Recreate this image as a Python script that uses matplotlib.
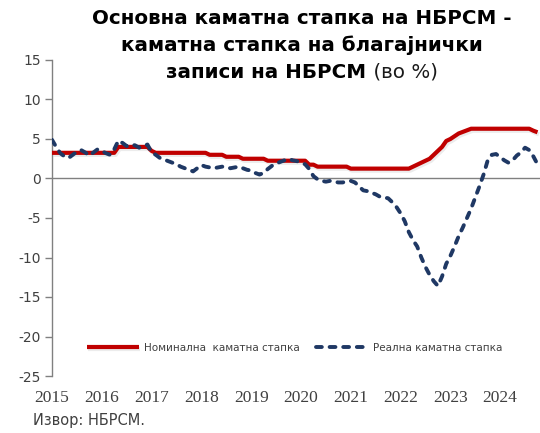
import matplotlib.pyplot as plt
import matplotlib.patheffects as pe
import numpy as np

# monthly data, Jan 2015 - Oct 2024
start_year = 2015
nominal = [3.25, 3.25, 3.25, 3.25, 3.25, 3.25, 3.25, 3.25, 3.25, 3.25, 3.25, 3.25,
           3.25, 3.25, 3.25, 3.25, 4.0, 4.0, 4.0, 4.0, 4.0, 4.0, 4.0, 4.0,
           3.5, 3.25, 3.25, 3.25, 3.25, 3.25, 3.25, 3.25, 3.25, 3.25, 3.25, 3.25,
           3.25, 3.25, 3.0, 3.0, 3.0, 3.0, 2.75, 2.75, 2.75, 2.75, 2.5, 2.5,
           2.5, 2.5, 2.5, 2.5, 2.25, 2.25, 2.25, 2.25, 2.25, 2.25, 2.25, 2.25,
           2.25, 2.25, 1.75, 1.75, 1.5, 1.5, 1.5, 1.5, 1.5, 1.5, 1.5, 1.5,
           1.25, 1.25, 1.25, 1.25, 1.25, 1.25, 1.25, 1.25, 1.25, 1.25, 1.25, 1.25,
           1.25, 1.25, 1.25, 1.5, 1.75, 2.0, 2.25, 2.5, 3.0, 3.5, 4.0, 4.75,
           5.0, 5.35, 5.7, 5.9, 6.1, 6.3, 6.3, 6.3, 6.3, 6.3, 6.3, 6.3,
           6.3, 6.3, 6.3, 6.3, 6.3, 6.3, 6.3, 6.3, 6.05, 5.85]
real = [4.9, 4.0, 3.2, 2.8, 2.6, 3.0, 3.4, 3.6, 3.3, 2.9, 3.3, 3.7,
        3.5, 3.2, 3.0, 3.7, 4.8, 4.5, 4.1, 4.3, 4.2, 3.9, 4.1, 4.3,
        3.3, 3.0, 2.6, 2.4, 2.2, 2.0, 1.8, 1.5, 1.3, 1.1, 0.9, 1.3,
        1.7, 1.5, 1.4, 1.3, 1.4, 1.5, 1.4, 1.3, 1.4, 1.5, 1.3, 1.1,
        1.0, 0.7, 0.5, 0.7, 1.2, 1.6, 1.9, 2.1, 2.3, 2.5, 2.3, 2.2,
        2.0, 1.8, 1.2, 0.3, -0.1, -0.3, -0.4, -0.3, -0.4, -0.5, -0.5, -0.4,
        -0.3, -0.5, -1.0, -1.5, -1.6, -1.8, -2.0, -2.3, -2.4, -2.5, -3.0, -3.6,
        -4.4, -5.4, -6.8, -7.8, -8.6, -10.0, -11.2, -12.2, -13.0, -13.6, -12.4, -10.8,
        -9.8, -8.6, -7.3, -6.2, -5.0, -3.8, -2.4, -1.0, 0.5, 2.3, 3.0, 3.1,
        2.7, 2.3, 2.0, 2.3, 2.9, 3.3, 3.9, 3.6, 2.8, 1.8]
years = list(range(2015, 2025))
yticks = [15, 10, 5, 0, -5, -10, -15, -20, -25]

x = start_year + np.arange(len(real)) / 12

fig = plt.figure(figsize=(5.4, 4.33), dpi=100)
ax = fig.add_axes([52/540, 1 - 376/433, 1 - 52/540, 316/433])

shadow = [pe.SimpleLineShadow(offset=(1, -1.5), alpha=0.15, shadow_color='gray'), pe.Normal()]
ax.plot(x, nominal, color='#C00000', lw=3.0, solid_capstyle='butt',
        label='Номинална  каматна стапка', path_effects=shadow, zorder=3)
ax.plot(x, real, color='#1F3864', lw=2.8, dashes=(1.5, 2.0), dash_capstyle='round',
        label='Реална каматна стапка', zorder=4)

ax.axhline(0, color='#808080', lw=1.0, zorder=2)
ax.set_xlim(2015, 2024.8)
ax.set_ylim(-25, 15)

for s in ['top', 'right', 'bottom']:
    ax.spines[s].set_visible(False)
ax.spines['left'].set_color('#808080')
ax.spines['left'].set_linewidth(1.0)

ax.set_yticks(yticks)
ax.set_yticklabels([str(v) for v in yticks])
ax.tick_params(axis='y', direction='out', length=5, width=1, color='#808080',
               labelsize=10, labelcolor='#404040', pad=3)
ax.set_xticks(years)
ax.set_xticklabels([str(y) for y in years], fontfamily='Liberation Serif', fontsize=12.5)
ax.tick_params(axis='x', length=0, labelcolor='#404040', pad=10)

leg = ax.legend(loc='center', bbox_to_anchor=(0.497, 0.089), ncol=2, frameon=False,
                fontsize=7.5, handlelength=5.0, columnspacing=1.5, handletextpad=0.5)
for t in leg.get_texts():
    t.set_color('#404040')

# title
cx = 302 / 540
fig.text(cx, 1 - 18/433, 'Основна каматна стапка на НБРСМ -', ha='center', va='center',
         fontsize=14.3, fontweight='bold', color='black')
fig.text(cx, 1 - 45/433, 'каматна стапка на благајнички', ha='center', va='center',
         fontsize=14.3, fontweight='bold', color='black')
t3a = fig.text(cx, 1 - 72/433, 'записи на НБРСМ', ha='left', va='center',
               fontsize=14.3, fontweight='bold', color='black')
t3b = fig.text(cx, 1 - 72/433, ' (во %)', ha='left', va='center',
               fontsize=14.3, color='#1a1a1a')
fig.canvas.draw()
r = fig.canvas.get_renderer()
wa = t3a.get_window_extent(r).width / fig.bbox.width
wb = t3b.get_window_extent(r).width / fig.bbox.width
t3a.set_x(cx - (wa + wb) / 2)
t3b.set_x(cx - (wa + wb) / 2 + wa)

fig.text(33/540, 1 - 421/433, 'Извор: НБРСМ.', ha='left', va='center',
         fontsize=10.5, color='#404040')

fig.savefig('out.png', dpi=100)
